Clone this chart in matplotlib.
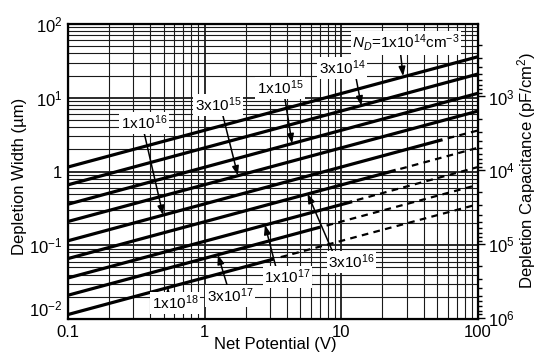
import matplotlib
matplotlib.use('Agg')
import matplotlib.pyplot as plt
from matplotlib.ticker import FixedLocator, FixedFormatter, NullFormatter, LogLocator
import numpy as np

plt.rcParams['font.family'] = 'Liberation Sans'
plt.rcParams['mathtext.fontset'] = 'custom'
plt.rcParams['mathtext.rm'] = 'Liberation Sans'
plt.rcParams['mathtext.it'] = 'Liberation Sans:italic'
plt.rcParams['mathtext.bf'] = 'Liberation Sans:bold'

# Rectas W(V) (V en volt, W en um)
etiquetas = ['1x10$^{14}$', '3x10$^{14}$', '1x10$^{15}$', '3x10$^{15}$', '1x10$^{16}$',
             '3x10$^{16}$', '1x10$^{17}$', '3x10$^{17}$', '1x10$^{18}$']
v_ini = [0.1, 0.1, 0.1, 0.1, 0.1, 0.1, 0.1, 0.1, 0.1]
w_ini = [1.15, 0.66, 0.36, 0.21, 0.115, 0.066, 0.036, 0.021, 0.0115]
# fin del tramo continuo
v_fin = [100, 100, 100, 100, 55, 25, 12, 7, 3.2]
w_fin = [36, 21, 11.5, 6.6, 2.7, 1.04, 0.39, 0.176, 0.065]
# tramo a trazos (ruptura) hasta 100 V
v_trazo = [None, None, None, None, 60, 27, 13, 7.8, 3.6]
w_trazo = [None, None, None, None, 2.82, 1.085, 0.41, 0.185, 0.069]
v_100 = [100, 100, 100, 100, 100, 100, 100, 100, 100]
w_100 = [36, 21, 11.5, 6.6, 3.6, 2.1, 1.15, 0.66, 0.36]

x_ticks = [0.1, 1, 10, 100]
x_labels = ['0.1', '1', '10', '100']
y_ticks = [1e-2, 1e-1, 1, 1e1, 1e2]
y_labels = ['10$^{-2}$', '10$^{-1}$', '1', '10$^{1}$', '10$^{2}$']
c_ticks = [1e2, 1e3, 1e4, 1e5, 1e6]
c_labels = ['10$^{2}$', '10$^{3}$', '10$^{4}$', '10$^{5}$', '10$^{6}$']

fig = plt.figure(figsize=(5.38, 3.57), dpi=100)
ax = fig.add_axes([68/538, 1-319/357, 410/538, 295/357])
ax.set_xscale('log')
ax.set_yscale('log')
ax.set_xlim(0.1, 100)
ax.set_ylim(1e-2, 1e2)

# papel log-log
for d in [0.1, 1, 10]:
    for k in range(2, 10):
        ax.axvline(d*k, color='0.1', lw=0.8, zorder=1)
for d in [0.01, 0.1, 1, 10]:
    for k in range(2, 10):
        ax.axhline(d*k, color='0.1', lw=0.8, zorder=1)
for t in x_ticks:
    ax.axvline(t, color='0.1', lw=1.3, zorder=1)
for t in y_ticks:
    ax.axhline(t, color='0.1', lw=1.3, zorder=1)

for i in range(len(etiquetas)):
    ax.plot([v_ini[i], v_fin[i]], [w_ini[i], w_fin[i]], color='black', lw=2.3,
            solid_capstyle='butt', zorder=3)
    if v_trazo[i] is not None:
        ax.plot([v_trazo[i], v_100[i]], [w_trazo[i], w_100[i]], color='black', lw=1.6,
                dashes=(3.0, 2.4), zorder=3)

# etiquetas con flecha: (texto x, texto y, punta x, punta y)
txt_pos = [(29.7, 55.3), (10.1, 25.3), (3.56, 13.6), (1.25, 7.98), (0.36, 4.55),
           (11.9, 0.0593), (4.05, 0.0371), (1.53, 0.0205), (0.606, 0.0165)]
tip_pos = [(28.3, 19.6), (14.0, 7.8), (4.36, 2.4), (1.75, 0.88), (0.496, 0.256),
           (5.66, 0.50), (2.76, 0.189), (1.25, 0.0743), (0.54, 0.0267)]
relpos = [(0.45, 0.0), (0.8, 0.0), (0.6, 0.0), (0.6, 0.0), (0.5, 0.0),
          (0.1, 1.0), (0.25, 1.0), (0.45, 1.0), (0.35, 1.0)]
for i in range(len(etiquetas)):
    texto = etiquetas[i]
    if i == 0:
        texto = '$N_D$=1x10$^{14}$cm$^{-3}$'
    ax.annotate(texto, xy=tip_pos[i], xytext=txt_pos[i], ha='center', va='center',
                fontsize=11, zorder=5,
                bbox=dict(boxstyle='square,pad=0.1', fc='white', ec='none'),
                arrowprops=dict(arrowstyle='-|>,head_length=0.5,head_width=0.18',
                                color='black', lw=1.1, shrinkA=0, shrinkB=0,
                                relpos=relpos[i]))

ax.xaxis.set_major_locator(FixedLocator(x_ticks))
ax.xaxis.set_major_formatter(FixedFormatter(x_labels))
ax.xaxis.set_minor_formatter(NullFormatter())
ax.yaxis.set_major_locator(FixedLocator(y_ticks))
ax.yaxis.set_major_formatter(FixedFormatter(y_labels))
ax.yaxis.set_minor_formatter(NullFormatter())
ax.tick_params(which='both', length=0, labelsize=12, pad=4)
# el 10^-2 queda un poco arriba para no pisar el 0.1
ax.yaxis.get_major_ticks()[0].label1.set_va('bottom')
for s in ax.spines.values():
    s.set_linewidth(1.6)

ax2 = ax.twinx()
ax2.set_yscale('log')
ax2.set_ylim(1.04e6, 1.04e2)
ax2.yaxis.set_major_locator(FixedLocator(c_ticks))
ax2.yaxis.set_major_formatter(FixedFormatter(c_labels))
ax2.yaxis.set_minor_locator(LogLocator(subs=np.arange(2, 10)))
ax2.yaxis.set_minor_formatter(NullFormatter())
ax2.tick_params(which='major', direction='out', length=5, width=1, labelsize=12, pad=2)
ax2.tick_params(which='minor', direction='out', length=3, width=1)

# titulos de ejes
fig.text(275/538, 1-344/357, 'Net Potential (V)', fontsize=12, ha='center', va='center')
fig.text(20/538, 1-176/357, 'Depletion Width (\u00b5m)', fontsize=12, rotation=90,
         ha='center', va='center')
fig.text(527/538, 1-170/357, 'Depletion Capacitance (pF/cm$^{2}$)', fontsize=12,
         rotation=90, ha='center', va='center')

fig.savefig('out.png', dpi=100)
